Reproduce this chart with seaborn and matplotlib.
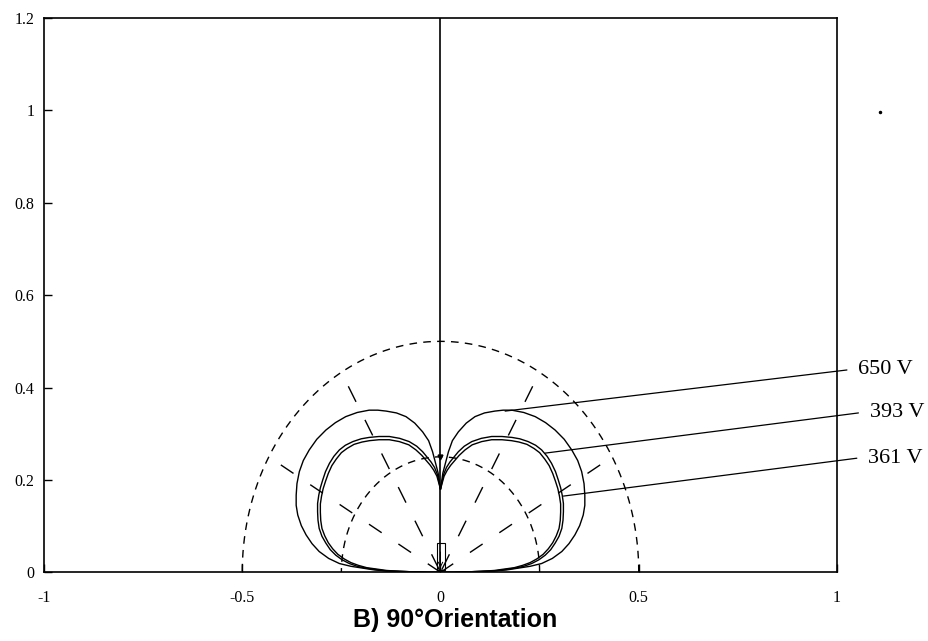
import numpy as np
import pandas as pd
import matplotlib
matplotlib.use("Agg")
import matplotlib.pyplot as plt
import seaborn as sns
from matplotlib.patches import Rectangle

# ---- data (right lobe; the left lobe is its mirror) ----
voltages = ["650 V", "393 V", "361 V"]

x_650 = [0.000, 0.006, 0.020, 0.030, 0.045, 0.065, 0.087, 0.111, 0.137, 0.158,
         0.180, 0.210, 0.239, 0.265, 0.289, 0.312, 0.331, 0.346, 0.356, 0.362,
         0.364, 0.364, 0.360, 0.351, 0.339, 0.324, 0.306, 0.282, 0.255, 0.226,
         0.196, 0.166, 0.137, 0.103, 0.069, 0.034, 0.000]
y_650 = [0.180, 0.215, 0.261, 0.285, 0.304, 0.323, 0.337, 0.345, 0.349, 0.351,
         0.351, 0.346, 0.337, 0.324, 0.308, 0.288, 0.265, 0.242, 0.218, 0.192,
         0.167, 0.145, 0.124, 0.101, 0.081, 0.062, 0.045, 0.030, 0.019, 0.013,
         0.009, 0.005, 0.003, 0.002, 0.001, 0.000, 0.000]

x_393 = [0.000, 0.008, 0.015, 0.024, 0.045, 0.060, 0.079, 0.103, 0.129, 0.155,
         0.180, 0.200, 0.221, 0.240, 0.255, 0.269, 0.280, 0.290, 0.297, 0.303,
         0.307, 0.310, 0.310, 0.309, 0.306, 0.299, 0.289, 0.278, 0.264, 0.248,
         0.230, 0.210, 0.188, 0.163, 0.137, 0.103, 0.069, 0.034, 0.000]
y_393 = [0.180, 0.212, 0.227, 0.239, 0.261, 0.273, 0.283, 0.290, 0.294, 0.294,
         0.292, 0.289, 0.283, 0.275, 0.265, 0.251, 0.236, 0.218, 0.200, 0.183,
         0.167, 0.149, 0.131, 0.113, 0.095, 0.078, 0.063, 0.049, 0.037, 0.027,
         0.019, 0.013, 0.009, 0.006, 0.003, 0.002, 0.001, 0.000, 0.000]

x_361 = [0.000, 0.009, 0.017, 0.026, 0.047, 0.062, 0.080, 0.104, 0.129, 0.155,
         0.179, 0.198, 0.218, 0.236, 0.250, 0.263, 0.274, 0.283, 0.290, 0.296,
         0.300, 0.303, 0.303, 0.302, 0.299, 0.292, 0.283, 0.272, 0.259, 0.243,
         0.226, 0.207, 0.186, 0.161, 0.136, 0.102, 0.068, 0.034, 0.000]
y_361 = [0.180, 0.208, 0.221, 0.232, 0.253, 0.265, 0.276, 0.283, 0.287, 0.287,
         0.285, 0.282, 0.277, 0.268, 0.259, 0.245, 0.231, 0.214, 0.197, 0.181,
         0.165, 0.148, 0.130, 0.112, 0.095, 0.079, 0.064, 0.051, 0.039, 0.029,
         0.021, 0.015, 0.010, 0.007, 0.004, 0.002, 0.001, 0.000, 0.000]

# leader-line anchor points on each curve and label positions
label_anchor_x = [0.163, 0.264, 0.310]
label_anchor_y = [0.349, 0.258, 0.165]
label_end_x = [1.025, 1.054, 1.050]
label_end_y = [0.438, 0.345, 0.247]

guide_radii = [0.5, 0.25]          # dashed semicircles
radial_angles_deg = [30, 60, 120, 150]
radial_length = 0.465

x_ticks = [-1, -0.5, 0, 0.5, 1]
x_ticklabels = ["-1", "-0.5", "0", "0.5", "1"]
y_ticks = [0, 0.2, 0.4, 0.6, 0.8, 1.0, 1.2]
y_ticklabels = ["0", "0.2", "0.4", "0.6", "0.8", "1", "1.2"]

title = "B) 90°Orientation"

# ---- build long table ----
rows = []
for v, xs, ys in zip(voltages, [x_650, x_393, x_361], [y_650, y_393, y_361]):
    for side, sgn in (("R", 1), ("L", -1)):
        for i, (a, b) in enumerate(zip(xs, ys)):
            rows.append(dict(curve=f"{v}-{side}", voltage=v, order=i, x=sgn * a, y=b))
df = pd.DataFrame(rows)

sns.set_theme(style="white")
plt.rcParams["font.family"] = ["Liberation Serif", "DejaVu Serif"]
plt.rcParams["text.color"] = "black"

fig = plt.figure(figsize=(9.29, 6.41), dpi=100)
ax = fig.add_axes([44 / 929, 1 - 572.3 / 641, (837 - 44) / 929, (572.3 - 18) / 641])

# guide semicircles
th = np.linspace(0, np.pi, 400)
for r in guide_radii:
    ax.plot(r * np.cos(th), r * np.sin(th), color="black", lw=1.0,
            linestyle=(0, (5.5, 4.5)), zorder=2)

# radial dashed lines
for ang in radial_angles_deg:
    a = np.deg2rad(ang)
    rr = np.array([radial_length, 0.0])
    steep = ang in (60, 120)
    dash = (0, (12.5, 14.5)) if steep else (0, (11, 14.5))
    ax.plot(rr * np.cos(a), rr * np.sin(a), color="black", lw=1.0,
            linestyle=dash, zorder=2)

# central vertical line
ax.plot([0, 0], [0, 1.2], color="black", lw=1.2, zorder=3)
ax.plot([0], [0.25], marker="v", ms=3.5, color="black", zorder=4)

# small electrode at origin
ax.add_patch(Rectangle((-0.010, 0.005), 0.021, 0.058, fill=False, ec="black", lw=0.8, zorder=3))
ax.annotate("", xy=(0, 0.004), xytext=(0, 0.05),
            arrowprops=dict(arrowstyle="->", color="black", lw=0.7, mutation_scale=8), zorder=4)

# field curves
sns.lineplot(data=df, x="x", y="y", units="curve", estimator=None, sort=False,
             color="black", lw=1.0, ax=ax, legend=False, zorder=5)

# leader lines and labels
for lab, ax0, ay0, ex, ey in zip(voltages, label_anchor_x, label_anchor_y, label_end_x, label_end_y):
    ax.plot([ax0, ex], [ay0, ey], color="black", lw=0.9, clip_on=False, zorder=6)
    ax.text(ex + 0.028, ey, lab, fontsize=16, va="center", ha="left", color="black",
            family=["Liberation Serif"], clip_on=False)

# stray scan dot
ax.plot([1.108], [0.996], marker="o", ms=1.5, color="black", clip_on=False)

ax.set_xlim(-1, 1)
ax.set_ylim(0, 1.2)
ax.set_xticks(x_ticks)
ax.set_xticklabels(x_ticklabels)
ax.set_yticks(y_ticks)
ax.set_yticklabels(y_ticklabels)
ax.set_xlabel("")
ax.set_ylabel("")
ax.tick_params(axis="both", direction="in", length=6, width=1.0, colors="black",
               labelsize=11.5, top=False, right=False, bottom=True, left=True)
ax.tick_params(axis="x", pad=13)
ax.tick_params(axis="y", pad=7)
for s in ax.spines.values():
    s.set_visible(True)
    s.set_color("black")
    s.set_linewidth(1.2)

fig.text(455 / 929, 1 - 620 / 641, title, ha="center", va="center", color="black",
         fontsize=18, fontweight="bold", family=["Liberation Sans", "DejaVu Sans"])

fig.savefig("out.png", dpi=100, facecolor="white")
